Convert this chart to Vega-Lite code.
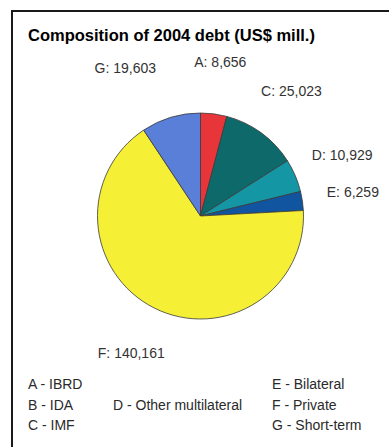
{
  "$schema": "https://vega.github.io/schema/vega-lite/v6.json",
  "width": 383,
  "height": 442,
  "autosize": {"type": "none"},
  "padding": {"left": 12, "top": 11, "right": -6, "bottom": -6},
  "background": "white",
  "title": {
    "text": "Composition of 2004 debt (US$ mill.)",
    "anchor": "start",
    "offset": -33,
    "dx": 16,
    "fontSize": 16.5,
    "font": "Liberation Sans",
    "fontWeight": "bold",
    "color": "#000000"
  },
  "config": {
    "view": {"stroke": "#1a1a1a", "strokeWidth": 2},
    "text": {"font": "Liberation Sans"}
  },
  "datasets": {
    "debt": [
      {"key": "A", "value": 8656},
      {"key": "C", "value": 25023},
      {"key": "D", "value": 10929},
      {"key": "E", "value": 6259},
      {"key": "F", "value": 140161},
      {"key": "G", "value": 19603}
    ],
    "legendItems": [
      {"item": "A - IBRD"},
      {"item": "B - IDA"},
      {"item": "C - IMF"},
      {"item": "D - Other multilateral"},
      {"item": "E - Bilateral"},
      {"item": "F - Private"},
      {"item": "G - Short-term"}
    ]
  },
  "layer": [
    {
      "data": {"name": "debt"},
      "mark": {"type": "arc", "outerRadius": 103, "stroke": "#3a3a3a", "strokeWidth": 0.8, "yOffset": -16, "xOffset": -3},
      "encoding": {
        "theta": {"field": "value", "type": "quantitative", "stack": true},
        "color": {
          "field": "key",
          "type": "nominal",
          "scale": {
            "domain": ["A", "C", "D", "E", "F", "G"],
            "range": ["#e8353a", "#0e6a6a", "#1496a5", "#1155a0", "#f5f035", "#5a7fd8"]
          },
          "legend": null
        },
        "order": {"field": "key", "type": "nominal"}
      }
    },
    {
      "data": {"name": "debt"},
      "transform": [{"calculate": "datum.key + ': ' + format(datum.value, ',')", "as": "label"}],
      "mark": {
        "type": "text",
        "radius": 154,
        "yOffset": -16,
        "xOffset": -3,
        "fontSize": 14,
        "color": "#333333",
        "align": {"expr": "datum.key === 'G' ? 'right' : 'center'"},
        "baseline": "middle"
      },
      "encoding": {
        "theta": {"field": "value", "type": "quantitative", "stack": true},
        "order": {"field": "key", "type": "nominal"},
        "text": {"field": "label", "type": "nominal"}
      }
    },
    {
      "data": {"name": "legendItems"},
      "mark": {"type": "point", "opacity": 0},
      "encoding": {
        "x": {"field": "item", "type": "nominal", "axis": null},
        "y": {"field": "item", "type": "nominal", "axis": null},
        "shape": {
          "field": "item",
          "type": "nominal",
          "scale": {
            "domain": ["A - IBRD", "B - IDA", "C - IMF", " ", "D - Other multilateral", "  ", "E - Bilateral", "F - Private", "G - Short-term"]
          },
          "legend": {
            "title": null,
            "orient": "none",
            "legendX": 2,
            "legendY": 367,
            "columns": 3,
            "columnPadding": 15,
            "rowPadding": 6.5,
            "symbolSize": 0,
            "symbolOpacity": 0,
            "symbolStrokeWidth": 0,
            "labelOffset": 0,
            "labelFont": "Liberation Sans",
            "labelFontSize": 14,
            "labelColor": "#2a2a2a",
            "labelLimit": 300
          }
        }
      }
    }
  ]
}
